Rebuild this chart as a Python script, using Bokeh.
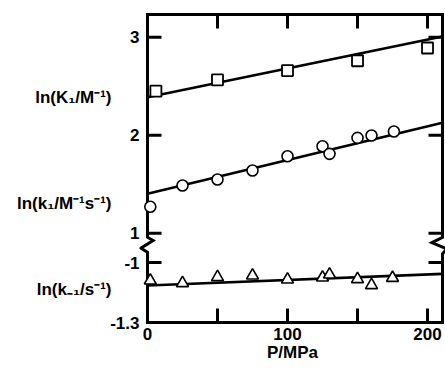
import math
from bokeh.plotting import figure
from bokeh.models import Range1d, LinearAxis, FixedTicker
from bokeh.embed import file_html
from bokeh.resources import INLINE

# ---- data ----
# ln(K1/M^-1)
P_K1 = [6, 50, 100, 150, 200]
lnK1 = [2.45, 2.565, 2.66, 2.76, 2.89]
fitK1_P = [0, 210.7]
fitK1_v = [2.388, 3.007]

# ln(k1/M^-1 s^-1)
P_k1 = [2, 25, 50, 75, 100, 125, 130, 150, 160, 176]
lnk1 = [1.27, 1.487, 1.548, 1.64, 1.786, 1.888, 1.81, 1.973, 1.997, 2.038]
fitk1_P = [0, 210.7]
fitk1_v = [1.402, 2.127]

# ln(k-1/s^-1)  (lower, expanded section of the broken axis)
P_km1 = [2, 25, 50, 75, 100, 125, 130, 150, 160, 175]
lnkm1 = [-1.09, -1.103, -1.073, -1.065, -1.085, -1.075, -1.06, -1.083, -1.113, -1.077]
fitkm1_P = [0, 210.7]
fitkm1_v = [-1.115, -1.057]

x_ticks = [0, 50, 100, 150, 200]
x_tick_labels = ["0", "", "100", "", "200"]
y_ticks = [3, 2, 1, -1, -1.3]
y_tick_labels = ["3", "2", "1", "-1", "-1.3"]

series_labels = ["ln(K\u2081/M\u207b\u00b9)", "ln(k\u2081/M\u207b\u00b9s\u207b\u00b9)", "ln(k\u208b\u2081/s\u207b\u00b9)"]
series_label_y = [2.385, 1.303, -1.135]

# ---- broken-axis mapping (lower section expanded) ----
LOW_TOP = 0.701     # plot position of -1
LOW_SCALE = 2.04


def ty(v):
    return v if v >= 0 else LOW_TOP + (v + 1.0) * LOW_SCALE


def tys(vals):
    return [ty(v) for v in vals]


X_MAX = 210.7
Y_TOP = 3.232
Y_BOT = ty(-1.3)
PX_X = 1.4      # px per MPa
PX_Y = 98.0     # px per plot unit
FONT = "Liberation Sans"

p = figure(width=445, height=370,
           x_range=Range1d(-8 / PX_X, X_MAX + 3 / PX_X),
           y_range=Range1d(Y_BOT - 3 / PX_Y, Y_TOP + 3 / PX_Y),
           output_backend="svg", toolbar_location=None, x_axis_type=None, y_axis_type=None,
           min_border_left=139, min_border_right=0, min_border_top=11, min_border_bottom=45)
p.outline_line_color = None
p.background_fill_color = "white"
p.border_fill_color = "white"


def label_axis(ax, standoff):
    ax.major_tick_in = 0
    ax.major_tick_out = 0
    ax.minor_tick_in = 0
    ax.minor_tick_out = 0
    ax.major_tick_line_color = None
    ax.minor_tick_line_color = None
    ax.axis_line_color = None
    ax.major_label_standoff = standoff
    ax.major_label_text_font = FONT
    ax.major_label_text_font_style = "bold"
    ax.major_label_text_font_size = "17px"
    ax.major_label_text_color = "black"


# bottom axis: tick labels + title
bottom = LinearAxis(ticker=FixedTicker(ticks=x_ticks),
                    major_label_overrides={t: l for t, l in zip(x_ticks, x_tick_labels)})
label_axis(bottom, 2)
bottom.axis_label = "P/MPa"
bottom.axis_label_standoff = 0
bottom.axis_label_text_font = FONT
bottom.axis_label_text_font_style = "bold"
bottom.axis_label_text_font_size = "17px"
bottom.axis_label_text_color = "black"
p.add_layout(bottom, "below")

# left axis: numeric tick labels
yt_pos = tys(y_ticks)
left = LinearAxis(ticker=FixedTicker(ticks=yt_pos),
                  major_label_overrides={t: l for t, l in zip(yt_pos, y_tick_labels)})
label_axis(left, 0)
p.add_layout(left, "left")

# outer left axis: series names
sl_pos = tys(series_label_y)
names = LinearAxis(ticker=FixedTicker(ticks=sl_pos),
                   major_label_overrides={t: l for t, l in zip(sl_pos, series_labels)})
label_axis(names, -4)
p.add_layout(names, "left")

# ---- frame with zig-zag breaks on both vertical sides ----
fx = [0, 0, -4.8, 4.0, 0, 0, X_MAX, X_MAX, X_MAX - 7.6, X_MAX + 3.1, X_MAX, X_MAX, 0]
fy = [Y_BOT, 0.806, 0.848, 0.925, 0.959, Y_TOP, Y_TOP, 0.959, 0.905, 0.841, 0.79, Y_BOT, Y_BOT]
p.line(fx, fy, line_width=3, color="black", line_join="miter", line_cap="square")

# ---- fit lines ----
p.line(fitK1_P, tys(fitK1_v), line_width=2.6, color="black")
p.line(fitk1_P, tys(fitk1_v), line_width=2.6, color="black")
p.line(fitkm1_P, tys(fitkm1_v), line_width=2.6, color="black")

# ---- data points ----
p.scatter(P_K1, tys(lnK1), marker="square", size=11, fill_color="white", line_color="black", line_width=1.8)
p.scatter(P_k1, tys(lnk1), marker="circle", size=11, fill_color="white", line_color="black", line_width=1.6)
p.scatter(P_km1, tys(lnkm1), marker="triangle", size=12, fill_color="white", line_color="black", line_width=1.6)

# ---- inward ticks as 'dash' markers (14 px long), centred 7 px inside the frame ----
TICK = 14
HX = (TICK / 2) / PX_X
HY = (TICK / 2) / PX_Y
side_y = yt_pos[:4]
tk_x = [HX] * len(side_y) + [X_MAX - HX] * len(side_y)
tk_y = side_y + side_y
p.scatter(tk_x, tk_y, marker="dash", size=TICK, angle=0, line_width=3, line_color="black")
tv_x = x_ticks[1:] + x_ticks[1:]
tv_y = [Y_TOP - HY] * len(x_ticks[1:]) + [Y_BOT + HY] * len(x_ticks[1:])
p.scatter(tv_x, tv_y, marker="dash", size=TICK, angle=math.pi / 2, line_width=3, line_color="black")

open("out.html", "w").write(file_html(p, INLINE))
